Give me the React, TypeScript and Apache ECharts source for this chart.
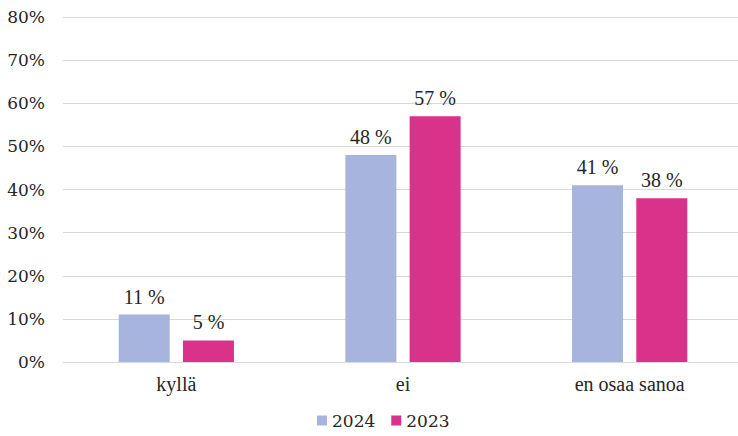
import React, { useEffect, useRef } from "react";
import * as echarts from "echarts";

const categories = ["kyllä", "ei", "en osaa sanoa"];
const series2024 = [11, 48, 41];
const series2023 = [5, 57, 38];
const seriesNames = ["2024", "2023"];
const yTicks = { min: 0, max: 80, interval: 10 };

const SERIF = "'Liberation Serif', 'Times New Roman', serif";
const WIDE_SERIF = "'DejaVu Serif', Georgia, serif";

export default function App() {
  const ref = useRef<HTMLDivElement>(null);
  useEffect(() => {
    const chart = echarts.init(ref.current!, null, { renderer: "svg" });
    const labelStyle = {
      show: true,
      position: "top" as const,
      distance: 8,
      formatter: (p: any) => `${p.value} %`,
      fontFamily: SERIF,
      fontSize: 20,
      color: "#262626",
    };
    chart.setOption({
      animation: false,
      backgroundColor: "#ffffff",
      grid: { left: 63, right: 2, top: 17, bottom: 74 },
      legend: {
        bottom: 2,
        left: 312,
        itemWidth: 10,
        itemHeight: 10,
        itemGap: 16,
        icon: "rect",
        textStyle: { fontFamily: WIDE_SERIF, fontSize: 17, color: "#262626" },
        data: seriesNames,
      },
      xAxis: {
        type: "category",
        data: categories,
        axisLine: { show: true, lineStyle: { color: "#d9d9d9", width: 1 } },
        axisTick: { show: false },
        axisLabel: {
          fontFamily: SERIF,
          fontSize: 20,
          color: "#262626",
          margin: 12,
        },
      },
      yAxis: {
        type: "value",
        min: yTicks.min,
        max: yTicks.max,
        interval: yTicks.interval,
        axisLine: { show: false },
        axisTick: { show: false },
        splitLine: { lineStyle: { color: "#d9d9d9", width: 1 } },
        axisLabel: {
          formatter: "{value}%",
          fontFamily: WIDE_SERIF,
          fontSize: 17,
          color: "#262626",
          margin: 18,
        },
      },
      series: [
        {
          name: seriesNames[0],
          type: "bar",
          data: series2024,
          barWidth: "22.5%",
          barGap: "26%",
          itemStyle: { color: "#a6b4de" },
          label: labelStyle,
        },
        {
          name: seriesNames[1],
          type: "bar",
          data: series2023,
          barWidth: "22.5%",
          itemStyle: { color: "#d9328a" },
          label: labelStyle,
        },
      ],
    });
    return () => chart.dispose();
  }, []);
  return (
    <div style={{ position: "absolute", left: 0, top: 0, width: 738, height: 436, overflow: "hidden" }}>
      <div ref={ref} style={{ width: 745, height: 436 }} />
    </div>
  );
}
